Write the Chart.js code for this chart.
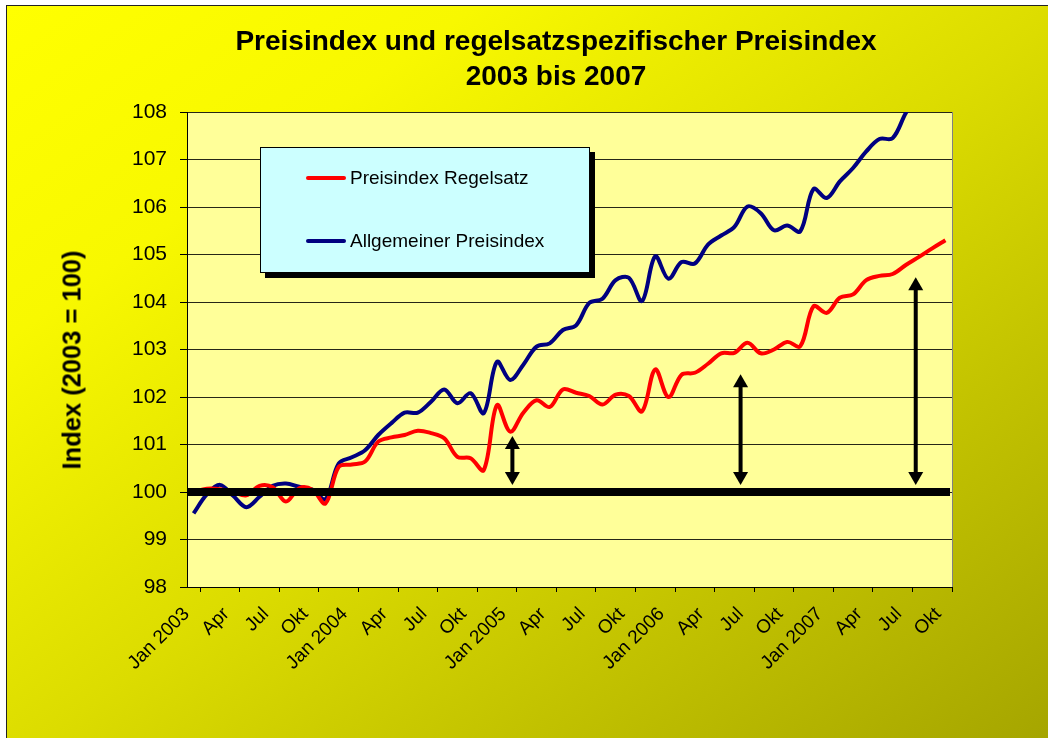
<!DOCTYPE html>
<html>
<head>
<meta charset="utf-8">
<script src="https://cdn.jsdelivr.net/npm/chart.js@4.4.0/dist/chart.umd.min.js"></script>
<style>
html,body{margin:0;padding:0;width:1048px;height:738px;overflow:hidden;background:#fff;font-family:"Liberation Sans",Arial,sans-serif;}
#bg{position:absolute;left:6px;top:5px;width:1070px;height:760px;box-sizing:border-box;border:1px solid #222;
 background:linear-gradient(to bottom right,#FFFF00 0%,#F8F800 22%,#DCDC00 50%,#C2C200 72%,#A2A200 100%);}
#c{position:absolute;left:0;top:0;}
.title{position:absolute;left:0;width:1112px;text-align:center;font-weight:bold;font-size:28px;line-height:34px;color:#000;white-space:nowrap;}
#ytitle{position:absolute;left:72px;top:360px;transform:translate(-50%,-50%) rotate(-90deg);font-weight:bold;font-size:25.5px;white-space:nowrap;color:#000;}
#legend{position:absolute;left:260px;top:147px;width:330px;height:126px;box-sizing:border-box;background:#CCFFFF;border:1px solid #000;box-shadow:5px 5px 0 #000;}
.sw{position:absolute;height:4px;width:40px;border-radius:2px;}
.lt{position:absolute;font-size:19px;line-height:22px;color:#000;white-space:nowrap;}
</style>
</head>
<body>
<div id="bg"></div>
<canvas id="c" width="1048" height="738"></canvas>
<div class="title" style="top:24px">Preisindex und regelsatzspezifischer Preisindex</div>
<div class="title" style="top:59px">2003 bis 2007</div>
<div id="ytitle">Index (2003 = 100)</div>
<div id="legend">
  <div class="sw" style="left:45px;top:28px;background:#FF0000"></div>
  <div class="lt" style="left:89px;top:19px">Preisindex Regelsatz</div>
  <div class="sw" style="left:45px;top:91px;background:#000080"></div>
  <div class="lt" style="left:89px;top:82px">Allgemeiner Preisindex</div>
</div>
<script>
// ---- data ----
const months = ['Jan','Feb','Mrz','Apr','Mai','Jun','Jul','Aug','Sep','Okt','Nov','Dez'];
const years = [2003, 2004, 2005, 2006, 2007];
const lastCategory = 'Okt 2007';
const categories = [];
outer: for (const yr of years) {
  for (const m of months) {
    categories.push(m + ' ' + yr);
    if (m + ' ' + yr === lastCategory) break outer;
  }
}
const shownMonths = ['Jan','Apr','Jul','Okt'];

const regelsatz = [
  100.00, 100.07, 100.06, 100.00, 99.93, 100.13, 100.10, 99.80, 100.08, 100.05, 99.76, 100.53,
  100.58, 100.64, 101.06, 101.15, 101.20, 101.29, 101.24, 101.13, 100.74, 100.71, 100.46, 101.83,
  101.27, 101.67, 101.93, 101.79, 102.16, 102.09, 102.02, 101.84, 102.05, 102.02, 101.70, 102.58,
  102.00, 102.47, 102.51, 102.70, 102.92, 102.93, 103.14, 102.92, 103.00, 103.16, 103.07, 103.91,
  103.77, 104.09, 104.16, 104.46, 104.55, 104.59, 104.78, 104.95, 105.13, 105.30
];
const allgemein = [
  99.55, 99.95, 100.15, 99.92, 99.68, 99.90, 100.13, 100.18, 100.11, 100.05, 99.85, 100.60,
  100.73, 100.88, 101.20, 101.45, 101.67, 101.67, 101.90, 102.16, 101.87, 102.08, 101.66, 102.74,
  102.36, 102.68, 103.06, 103.13, 103.41, 103.51, 103.98, 104.07, 104.46, 104.51, 104.02, 104.96,
  104.49, 104.84, 104.81, 105.21, 105.40, 105.58, 106.01, 105.87, 105.51, 105.61, 105.49, 106.38,
  106.19, 106.54, 106.82, 107.17, 107.43, 107.45, 107.98, 108.40
];
const baselineValue = [100];
const yTickRange = [98, 108, 1];
// double arrows: month position (category index), lower and upper value
const arrowMonth = [24.17, 41.47, 54.75];
const arrowLow = [100.15, 100.15, 100.15];
const arrowHigh = [101.18, 102.48, 104.52];

// ---- drawing ----
const FONT = '"Liberation Sans", Arial, sans-serif';

function drawArrow(ctx, x, yTop, yBot) {
  const hw = 7.5, hh = 13, sw = 4;
  ctx.fillRect(x - sw / 2, yTop + hh - 1, sw, (yBot - yTop) - 2 * hh + 2);
  ctx.beginPath(); ctx.moveTo(x, yTop); ctx.lineTo(x + hw, yTop + hh); ctx.lineTo(x - hw, yTop + hh); ctx.closePath(); ctx.fill();
  ctx.beginPath(); ctx.moveTo(x, yBot); ctx.lineTo(x + hw, yBot - hh); ctx.lineTo(x - hw, yBot - hh); ctx.closePath(); ctx.fill();
}

const decor = {
  id: 'decor',
  beforeDraw(chart) {
    const { ctx, chartArea: a } = chart;
    ctx.save();
    ctx.fillStyle = '#FFFF99';
    ctx.fillRect(a.left, a.top, a.right - a.left, a.bottom - a.top);
    ctx.restore();
  },
  afterDraw(chart) {
    const { ctx, chartArea: a, scales: { x, y } } = chart;
    ctx.save();
    ctx.strokeStyle = '#808080';
    ctx.lineWidth = 1;
    ctx.beginPath(); ctx.moveTo(a.right + 0.5, a.top); ctx.lineTo(a.right + 0.5, a.bottom); ctx.stroke();
    ctx.fillStyle = '#000';
    const yb = y.getPixelForValue(baselineValue[0]);
    ctx.fillRect(a.left, yb - 4, a.right - a.left - 2, 8);
    for (let i = 0; i < arrowMonth.length; i++) {
      drawArrow(ctx, x.getPixelForValue(arrowMonth[i]), y.getPixelForValue(arrowHigh[i]), y.getPixelForValue(arrowLow[i]));
    }
    ctx.restore();
  }
};

new Chart(document.getElementById('c'), {
  type: 'line',
  data: {
    labels: categories,
    datasets: [
      { label: 'Preisindex Regelsatz', data: regelsatz, borderColor: '#FF0000', backgroundColor: '#FF0000',
        borderWidth: 4, pointRadius: 0, tension: 0.35, clip: 0, fill: false },
      { label: 'Allgemeiner Preisindex', data: allgemein, borderColor: '#000080', backgroundColor: '#000080',
        borderWidth: 4, pointRadius: 0, tension: 0.35, clip: 0, fill: false }
    ]
  },
  options: {
    responsive: false,
    animation: false,
    devicePixelRatio: 1,
    layout: { padding: { left: 0, top: 112, right: 96, bottom: 0 } },
    plugins: { legend: { display: false }, tooltip: { enabled: false }, title: { display: false } },
    scales: {
      x: {
        type: 'category',
        offset: true,
        grid: {
          drawOnChartArea: false, offset: true, drawTicks: true, tickLength: 5, tickWidth: 1,
          tickColor: (c) => (c.type === 'tick' ? (c.index % 3 === 1 ? '#000' : 'rgba(0,0,0,0)') : '#000')
        },
        border: { color: '#000', width: 1 },
        ticks: {
          autoSkip: false, minRotation: 45, maxRotation: 45, padding: 11, labelOffset: -7, color: '#000',
          font: { family: FONT, size: 19 },
          callback: function (val, idx) {
            const lab = categories[idx];
            const m = lab.split(' ')[0];
            if (!shownMonths.includes(m)) return '';
            return m === 'Jan' ? lab : m;
          }
        },
        afterFit(s) { s.height = 151; }
      },
      y: {
        min: yTickRange[0], max: yTickRange[1],
        ticks: { stepSize: yTickRange[2], color: '#000', padding: 13, font: { family: FONT, size: 21 } },
        grid: { color: 'rgba(0,0,0,0.85)', lineWidth: 1, tickLength: 7, tickColor: '#000' },
        border: { color: '#000', width: 1 },
        afterFit(s) { s.width = 187; }
      }
    }
  },
  plugins: [decor]
});
</script>
</body>
</html>
